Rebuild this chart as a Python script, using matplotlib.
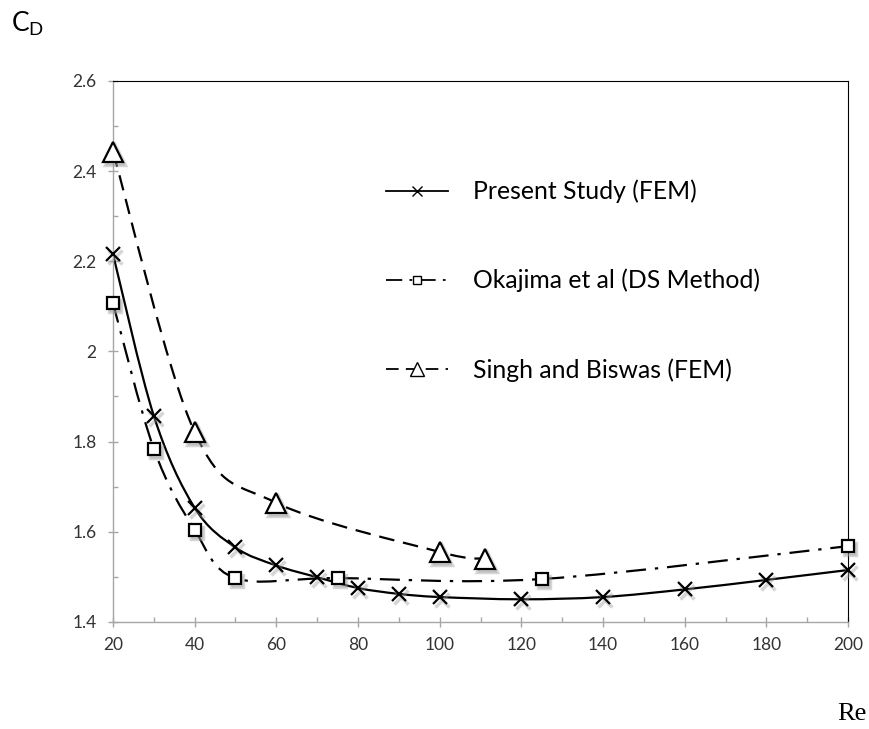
import numpy as np
import matplotlib
matplotlib.use("Agg")
import matplotlib.pyplot as plt
from matplotlib.path import Path
from matplotlib.patches import PathPatch
from matplotlib.lines import Line2D
from matplotlib import transforms

plt.rcParams['font.family'] = ['Lato', 'DejaVu Sans']

# values
re_present = [20, 30, 40, 50, 60, 70, 80, 90, 100, 120, 140, 160, 180, 200]
cd_present = [2.216, 1.857, 1.653, 1.565, 1.525, 1.499, 1.475, 1.462, 1.455,
              1.450, 1.455, 1.472, 1.493, 1.515]

re_okajima = [20, 30, 40, 50, 75, 125, 200]
cd_okajima = [2.107, 1.784, 1.604, 1.497, 1.497, 1.495, 1.568]

re_singh = [20, 40, 60, 100, 111]
cd_singh = [2.443, 1.821, 1.664, 1.555, 1.540]

labels = ['Present Study (FEM)', 'Okajima et al (DS Method)', 'Singh and Biswas (FEM)']


def smooth_path(x, y):
    # Excel-style smoothed line: cubic Bezier segments through the points
    p = np.column_stack([x, y]).astype(float)
    n = len(p)
    verts = [p[0]]
    codes = [Path.MOVETO]
    for i in range(n - 1):
        p0 = p[i - 1] if i > 0 else p[i]
        p3 = p[i + 2] if i + 2 < n else p[i + 1]
        c1 = p[i] + (p[i + 1] - p0) / 6.0
        c2 = p[i + 1] - (p3 - p[i]) / 6.0
        verts += [c1, c2, p[i + 1]]
        codes += [Path.CURVE4] * 3
    return Path(verts, codes)


fig = plt.figure(figsize=(8.69, 7.29), dpi=100)
ax = fig.add_axes([0.130, 0.147, 0.846, 0.742])

series = [
    (re_present, cd_present, '-', 'x', 10, 'k'),
    (re_okajima, cd_okajima, (0, (9, 4, 1.5, 4)), 's', 9, 'white'),
    (re_singh, cd_singh, (0, (7, 4)), '^', 15, 'white'),
]

shadow = transforms.offset_copy(ax.transData, fig=fig, x=2, y=-3, units='dots')
handles = []
for x, y, ls, mk, ms, mfc in series:
    patch = PathPatch(smooth_path(x, y), facecolor='none', edgecolor='black',
                      lw=1.6, linestyle=ls, zorder=2)
    ax.add_patch(patch)
    ax.plot(x, y, linestyle='none', marker=mk, ms=ms, mfc='#9a9a9a', mec='#9a9a9a',
            mew=2.5, alpha=0.4, transform=shadow, zorder=3, clip_on=False)
    ax.plot(x, y, linestyle='none', marker=mk, ms=ms, mfc=mfc, mec='black',
            mew=1.6, zorder=4, clip_on=False)
    handles.append(Line2D([], [], color='black', lw=1.3, linestyle=ls, marker=mk,
                          ms=ms * 0.7, mfc='white', mec='black', mew=1.0))

ax.set_xlim(20, 200)
ax.set_ylim(1.4, 2.6)
ax.set_xticks(np.arange(20, 201, 20))
ax.set_xticks(np.arange(30, 200, 20), minor=True)
ax.set_yticks([1.4, 1.6, 1.8, 2.0, 2.2, 2.4, 2.6])
ax.set_yticklabels(['1.4', '1.6', '1.8', '2', '2.2', '2.4', '2.6'])
ax.set_yticks(np.arange(1.5, 2.6, 0.2), minor=True)

for side in ['left', 'bottom']:
    ax.spines[side].set_color('#a6a6a6')
    ax.spines[side].set_linewidth(1.0)
for side in ['top', 'right']:
    ax.spines[side].set_color('black')
    ax.spines[side].set_linewidth(0.8)

ax.tick_params(which='major', direction='inout', length=6.5, width=1.0,
               color='#a6a6a6', labelsize=12.5, labelcolor='#333333')
ax.tick_params(axis='y', which='major', pad=8.5)
ax.tick_params(axis='x', which='major', pad=8)
ax.tick_params(which='minor', direction='in', length=3.6, width=1.0, color='#a6a6a6')

ax.legend(handles, labels, loc='upper left', bbox_to_anchor=(0.419, 0.784),
          bbox_transform=fig.transFigure, frameon=False, fontsize=17.8,
          handlelength=2.5, handletextpad=1.0, labelspacing=2.65, numpoints=1)

fig.text(0.013, 0.957, r'C$_\mathregular{D}$', fontsize=19, color='black')
fig.text(0.964, 0.013, 'Re', fontsize=19, family='Liberation Serif', ha='left',
         color='black')

fig.savefig('out.png', dpi=100, facecolor='white')
